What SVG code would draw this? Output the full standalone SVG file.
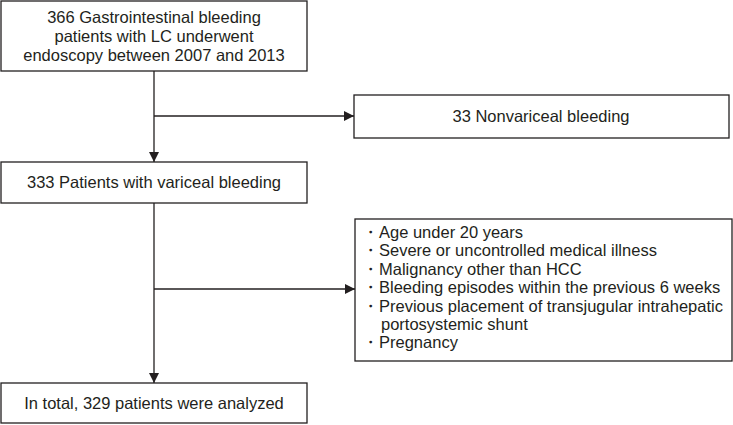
<svg xmlns="http://www.w3.org/2000/svg" width="733" height="425" viewBox="0 0 733 425">
<defs>
<marker id="arr" viewBox="0 0 10 10" refX="10" refY="5" markerWidth="10" markerHeight="10" markerUnits="userSpaceOnUse" orient="auto">
<path d="M0,0 L10,5 L0,10 Z" fill="#231f20"/>
</marker>
<style>
.box{fill:#fff;stroke:#231f20;stroke-width:1.3}
.t{font-family:"Liberation Sans",Arial,sans-serif;font-size:16.5px;fill:#231f20}
.c{text-anchor:middle}
.ln{fill:none;stroke:#231f20;stroke-width:1.3}
</style>
</defs>
<rect width="733" height="425" fill="#fff"/>
<g id="connectors">
<line class="ln" x1="154" y1="71" x2="154" y2="162" marker-end="url(#arr)"/>
<line class="ln" x1="154" y1="116" x2="354" y2="116" marker-end="url(#arr)"/>
<line class="ln" x1="154" y1="203" x2="154" y2="383" marker-end="url(#arr)"/>
<line class="ln" x1="154" y1="289" x2="355" y2="289" marker-end="url(#arr)"/>
</g>
<g id="n1">
<rect class="box" x="1" y="1" width="306" height="70"/>
<text class="t c" x="154" y="23">366 Gastrointestinal bleeding</text>
<text class="t c" x="154" y="42">patients with LC underwent</text>
<text class="t c" x="154" y="61">endoscopy between 2007 and 2013</text>
</g>
<g id="n2">
<rect class="box" x="354" y="95" width="375" height="43"/>
<text class="t c" x="541" y="122">33 Nonvariceal bleeding</text>
</g>
<g id="n3">
<rect class="box" x="1" y="162" width="306" height="41"/>
<text class="t c" x="154" y="188">333 Patients with variceal bleeding</text>
</g>
<g id="n4">
<rect class="box" x="355" y="219" width="377" height="142"/>
<text class="t" x="362" y="238">・Age under 20 years</text>
<text class="t" x="362" y="256">・Severe or uncontrolled medical illness</text>
<text class="t" x="362" y="275">・Malignancy other than HCC</text>
<text class="t" x="362" y="293">・Bleeding episodes within the previous 6 weeks</text>
<text class="t" x="362" y="312">・Previous placement of transjugular intrahepatic</text>
<text class="t" x="381" y="330">portosystemic shunt</text>
<text class="t" x="362" y="348">・Pregnancy</text>
</g>
<g id="n5">
<rect class="box" x="1" y="383" width="306" height="40"/>
<text class="t c" x="154" y="409">In total, 329 patients were analyzed</text>
</g>
</svg>
